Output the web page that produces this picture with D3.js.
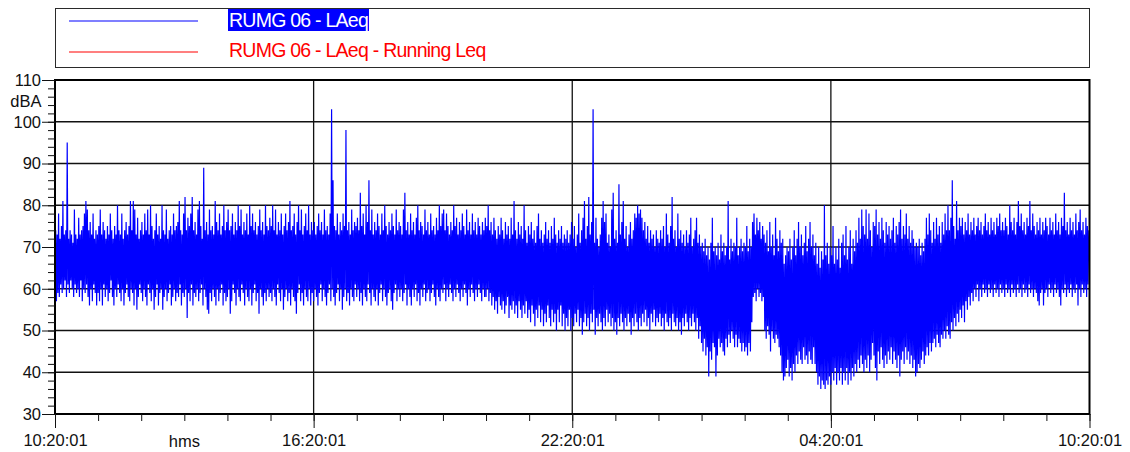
<!DOCTYPE html>
<html>
<head>
<meta charset="utf-8">
<script src="https://cdn.jsdelivr.net/npm/d3@7"></script>
<style>
  html, body { margin: 0; padding: 0; background: #fff; }
  svg { display: block; font-family: "Liberation Sans", Arial, sans-serif; }
</style>
</head>
<body>
<svg id="chart" width="1130" height="452"></svg>
<script>
// Measurement window: 24 h starting 10:20:01, one LAeq value per minute.
const startTime = new Date(2024, 0, 1, 10, 20, 1);
const endTime = new Date(2024, 0, 2, 10, 20, 1);

const yMajorTicks = [30, 40, 50, 60, 70, 80, 90, 100, 110];
const yMinorTicks = d3.range(30, 111, 2);
const yUnit = "dBA";
const xUnit = "hms";

const seriesNames = ["RUMG 06 - LAeq", "RUMG 06 - LAeq - Running Leq"];
const seriesColors = ["#0000ff", "#ff0000"];

// LAeq (dB), one array per hour of the measurement, one value per minute.
const laeq_1020 = [60,74,57,73,59,78,58,72,61,75, 59,81,60,73,62,74,58,95,61,72, 59,74,62,73,60,71,58,79,61,73, 59,72,60,77,58,73,62,74,57,75, 60,78,59,81,61,79,58,74,56,76, 60,73,57,78,61,72,59,74,56,73];
const laeq_1120 = [59,75,57,79,60,73,56,76,61,74, 58,72,60,75,57,73,59,78,62,74, 58,72,56,75,60,73,58,80,61,74, 59,73,57,78,60,72,56,74,59,76, 61,73,58,75,57,81,60,74,59,81, 56,79,60,73,55,77,58,72,61,74];
const laeq_1220 = [59,76,57,73,60,78,58,74,56,79, 61,73,59,80,57,75,60,72,55,74, 58,78,61,73,56,75,59,72,60,80, 55,74,58,73,60,79,57,72,59,74, 61,75,56,73,58,78,60,74,57,75, 59,76,58,81,61,74,56,73,59,78];
const laeq_1320 = [58,82,60,74,53,77,59,75,57,78, 61,82,56,74,59,76,58,73,60,79, 57,81,59,75,61,72,56,89,60,74, 58,76,55,73,54,79,59,74,57,75, 60,73,58,81,56,76,60,74,57,78, 59,73,61,75,56,80,59,74,57,76];
const laeq_1420 = [58,79,60,74,54,75,57,78,61,73, 59,76,56,74,60,80,58,75,57,79, 61,73,59,76,56,74,60,78,58,73, 57,80,60,75,56,78,59,74,61,76, 57,73,59,75,54,79,60,74,58,76, 56,73,59,80,57,75,60,74,58,77];
const laeq_1520 = [59,75,57,80,60,74,58,79,56,73, 61,76,59,74,57,78,60,73,55,75, 58,78,60,74,57,76,59,81,56,74, 60,75,58,78,57,73,54,76,59,80, 61,74,57,79,59,73,56,75,60,78, 58,74,57,80,60,73,56,76,59,74];
const laeq_1620 = [57,76,60,73,58,75,56,78,59,74, 61,76,57,73,60,79,58,74,56,75, 59,73,61,78,57,103,60,86,58,75, 56,74,59,78,61,73,57,76,60,74, 55,78,58,75,60,98,57,74,59,76, 56,73,60,79,58,74,57,76,61,75];
const laeq_1720 = [58,77,60,74,57,83,59,75,56,78, 60,73,58,80,57,76,61,86,59,74, 56,79,60,73,58,76,57,74,60,78, 56,75,59,73,61,78,57,74,60,80, 58,75,56,73,59,76,60,74,57,78, 55,75,59,73,61,79,57,74,60,76];
const laeq_1820 = [58,75,60,73,57,79,59,83,61,74, 56,76,60,73,58,78,56,74,60,76, 58,73,61,77,57,80,59,74,56,76, 60,75,58,73,61,79,57,74,59,76, 60,73,57,78,59,74,61,75,58,73, 56,77,60,74,58,80,57,75,60,78];
const laeq_1920 = [59,79,61,74,57,78,60,75,58,73, 61,76,59,74,57,80,60,75,58,77, 61,73,59,76,57,74,60,78,58,75, 61,73,59,79,56,74,60,76,58,73, 61,78,59,74,57,76,60,73,58,77, 61,75,59,73,57,76,60,74,58,77];
const laeq_2020 = [58,75,60,80,57,74,59,76,56,73, 58,77,55,74,57,72,54,75,58,73, 56,77,55,74,57,72,54,76,56,73, 58,75,53,72,56,77,55,73,57,81, 54,74,56,72,53,76,57,73,55,75, 53,72,56,80,54,74,57,71,53,75];
const laeq_2120 = [55,73,52,76,56,72,54,74,51,71, 55,75,53,78,56,72,52,74,55,71, 51,73,54,76,52,72,56,74,53,71, 51,75,55,72,52,77,54,73,50,71, 55,74,52,72,56,75,51,71,54,73, 50,72,53,74,51,71,55,73,50,76];
const laeq_2220 = [53,72,51,75,54,70,52,73,55,78, 51,71,53,74,49,77,52,81,54,72, 51,75,53,82,50,73,54,76,52,103, 55,71,49,77,53,72,51,70,54,73, 52,77,50,81,53,76,51,78,55,71, 52,73,54,70,51,79,53,83,50,72];
const laeq_2320 = [52,74,49,71,53,85,51,73,54,76, 52,81,50,72,53,75,51,70,54,73, 52,76,49,72,53,74,51,78,54,77, 52,80,50,78,53,79,51,77,54,74, 52,76,55,72,51,75,53,71,50,74, 54,72,52,73,55,70,51,74,53,72];
const laeq_0020 = [52,71,54,74,51,72,53,75,50,70, 54,78,52,73,51,71,53,75,50,82, 54,72,52,74,51,70,53,78,50,72, 52,74,49,71,53,73,51,70,54,74, 52,71,50,73,53,77,51,70,54,72, 52,74,50,77,53,71,48,73,51,70];
const laeq_0120 = [47,71,45,69,48,72,44,68,46,70, 39,67,45,71,43,77,47,69,46,70, 39,68,44,71,48,67,46,73,47,69, 45,71,44,68,48,70,46,81,49,67, 47,72,50,69,48,71,46,70,49,77, 46,68,48,70,47,72,45,69,47,71];
const laeq_0220 = [45,70,46,75,44,69,47,72,45,70, 52,76,58,78,59,73,57,77,60,74, 58,76,59,72,57,75,58,73,50,71, 48,74,51,69,49,76,45,70,50,73, 48,68,47,77,49,72,48,69,46,74, 44,71,40,72,38,66,39,68,41,70];
const laeq_0320 = [43,69,39,72,41,67,38,70,42,74, 40,68,44,72,42,76,45,70,43,73, 42,68,46,71,43,75,44,69,42,72, 45,76,43,70,42,73,46,68,42,71, 40,66,37,70,39,65,36,69,38,67, 37,80,36,68,38,71,37,66,39,70];
const laeq_0420 = [37,68,40,75,38,66,41,70,37,67, 40,72,38,65,41,71,37,73,40,68, 38,75,41,67,37,70,40,74,38,66, 41,72,39,69,42,74,40,71,43,77, 41,72,44,79,42,75,40,73,43,79, 41,72,44,78,40,74,43,70,47,76];
const laeq_0520 = [44,75,41,79,38,73,45,76,42,72, 46,77,43,74,41,71,44,76,42,73, 45,75,43,72,46,74,42,77,45,71, 43,75,41,73,44,76,39,79,43,72, 45,75,42,73,46,78,43,72,45,75, 42,71,44,74,41,72,43,70,39,71];
const laeq_0620 = [40,70,42,72,41,68,43,71,45,69, 42,72,44,77,46,73,44,78,47,74, 45,71,47,76,48,72,46,77,49,73, 47,75,46,71,49,76,48,73,50,78, 48,74,51,80,49,74,48,77,52,86, 50,75,53,72,51,81,54,74,52,77];
const laeq_0720 = [55,75,53,77,56,73,52,76,57,74, 55,78,58,73,56,76,59,74,57,77, 60,73,58,75,61,77,57,74,60,76, 58,73,61,75,59,78,60,74,58,76, 61,73,59,77,60,74,58,76,61,73, 59,77,60,75,58,78,61,74,59,76];
const laeq_0820 = [60,74,58,77,61,75,59,73,60,80, 58,76,61,74,59,77,60,73,58,76, 61,81,59,75,60,78,58,74,61,76, 59,73,60,77,58,75,61,81,59,74, 60,78,58,75,60,73,59,76,57,74, 56,77,59,73,60,76,56,74,59,77];
const laeq_0920 = [60,75,58,73,61,77,59,74,60,76, 58,73,61,78,59,74,60,76,58,73, 56,77,60,75,59,83,61,74,58,76, 60,73,59,77,61,74,58,76,60,73, 59,78,61,74,56,76,60,79,58,74, 61,76,59,73,60,77,58,75,61,74];

const hourlyLaeq = [
  laeq_1020, laeq_1120, laeq_1220, laeq_1320, laeq_1420, laeq_1520,
  laeq_1620, laeq_1720, laeq_1820, laeq_1920, laeq_2020, laeq_2120,
  laeq_2220, laeq_2320, laeq_0020, laeq_0120, laeq_0220, laeq_0320,
  laeq_0420, laeq_0520, laeq_0620, laeq_0720, laeq_0820, laeq_0920
];

const laeqSeries = hourlyLaeq.flat().map((v, i) => ({
  time: d3.timeMinute.offset(startTime, i),
  value: v
}));

// ---- layout ----
const svg = d3.select("#chart");
const plot = { left: 55, right: 1089.5, top: 80, bottom: 414 };
const font = '"Liberation Sans", Arial, sans-serif';

const x = d3.scaleTime().domain([startTime, endTime]).range([plot.left, plot.right]);
const y = d3.scaleLinear().domain([30, 110]).range([plot.bottom, plot.top]);

const hourTicks = d3.range(0, 25).map(h => d3.timeHour.offset(startTime, h));
const majorTicks = hourTicks.filter((d, i) => i % 6 === 0);

svg.append("rect").attr("width", 1130).attr("height", 452).attr("fill", "#fff");

// ---- legend ----
const legend = svg.append("g");
legend.append("rect")
  .attr("x", 55.5).attr("y", 8.5).attr("width", 1034).attr("height", 59)
  .attr("fill", "none").attr("stroke", "#2a2a2a").attr("stroke-width", 1);
const legendRows = [21, 52];
seriesNames.forEach((name, i) => {
  legend.append("line")
    .attr("x1", 69).attr("x2", 198).attr("y1", legendRows[i]).attr("y2", legendRows[i])
    .attr("stroke", seriesColors[i]).attr("stroke-width", 1.2);
});
legend.append("rect")
  .attr("x", 228).attr("y", 9).attr("width", 141).attr("height", 22)
  .attr("fill", seriesColors[0]);
legend.append("text")
  .attr("x", 229).attr("y", 26.7)
  .attr("fill", "#fff").attr("font-size", 19.5).attr("letter-spacing", -0.75)
  .attr("font-family", font)
  .text(seriesNames[0]);
legend.append("text")
  .attr("x", 229).attr("y", 56.7)
  .attr("fill", seriesColors[1]).attr("font-size", 19.5).attr("letter-spacing", -0.75)
  .attr("font-family", font)
  .text(seriesNames[1]);

// ---- grid ----
const grid = svg.append("g").attr("stroke", "#111").attr("stroke-width", 1.3);
yMajorTicks.filter(v => v > 30 && v < 110).forEach(v => {
  grid.append("line")
    .attr("x1", plot.left).attr("x2", plot.right)
    .attr("y1", y(v)).attr("y2", y(v));
});
majorTicks.slice(1, -1).forEach(t => {
  grid.append("line")
    .attr("x1", x(t)).attr("x2", x(t))
    .attr("y1", plot.top).attr("y2", plot.bottom);
});

// ---- data ----
svg.append("clipPath").attr("id", "plot-clip")
  .append("rect")
  .attr("x", plot.left).attr("y", plot.top)
  .attr("width", plot.right - plot.left).attr("height", plot.bottom - plot.top);

const line = d3.line().x(d => x(d.time)).y(d => y(d.value));
svg.append("path")
  .datum(laeqSeries)
  .attr("clip-path", "url(#plot-clip)")
  .attr("fill", "none")
  .attr("stroke", seriesColors[0])
  .attr("stroke-width", 1.2)
  .attr("stroke-linejoin", "miter")
  .attr("d", line);

// ---- frame ----
svg.append("rect")
  .attr("x", plot.left).attr("y", plot.top)
  .attr("width", plot.right - plot.left).attr("height", plot.bottom - plot.top)
  .attr("fill", "none").attr("stroke", "#000").attr("stroke-width", 2);

// ---- axes ----
function styleAxis(g) {
  g.select(".domain").remove();
  g.attr("font-family", font).attr("font-size", 16.5).attr("color", "#111");
  g.selectAll(".tick line").attr("stroke-width", 1);
}

svg.append("g")
  .attr("transform", `translate(0,${plot.bottom})`)
  .call(d3.axisBottom(x).tickValues(hourTicks).tickSize(7).tickFormat(""))
  .call(styleAxis);

svg.append("g")
  .attr("transform", `translate(0,${plot.bottom})`)
  .call(d3.axisBottom(x).tickValues(majorTicks).tickSize(14).tickPadding(6)
    .tickFormat(d3.timeFormat("%H:%M:%S")))
  .call(styleAxis);

svg.append("g")
  .attr("transform", `translate(${plot.left},0)`)
  .call(d3.axisLeft(y).tickValues(yMinorTicks).tickSize(7).tickFormat(""))
  .call(styleAxis);

svg.append("g")
  .attr("transform", `translate(${plot.left},0)`)
  .call(d3.axisLeft(y).tickValues(yMajorTicks).tickSize(13).tickPadding(1)
    .tickFormat(d3.format("d")))
  .call(styleAxis);

// unit labels
svg.append("text")
  .attr("x", 41.5).attr("y", 106.5)
  .attr("text-anchor", "end")
  .attr("font-family", font).attr("font-size", 16.5).attr("fill", "#111")
  .text(yUnit);

svg.append("text")
  .attr("x", x(d3.timeHour.offset(startTime, 3))).attr("y", 447)
  .attr("text-anchor", "middle")
  .attr("font-family", font).attr("font-size", 16.5).attr("fill", "#111")
  .text(xUnit);
</script>
</body>
</html>
